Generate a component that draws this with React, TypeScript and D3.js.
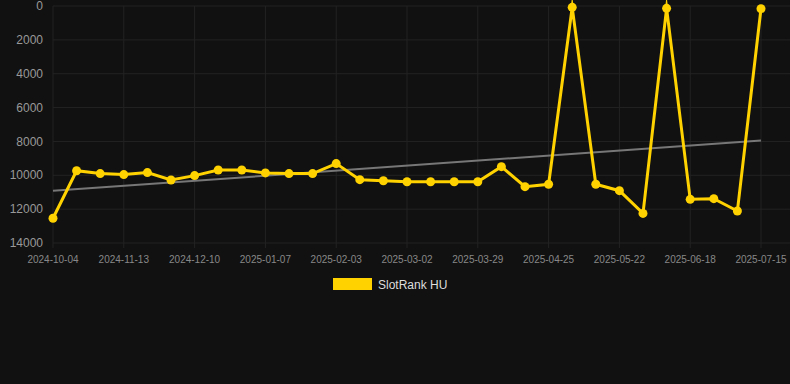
import React, { useEffect } from "react";
import * as d3 from "d3";

const categories: string[] = [
  "2024-10-04", "2024-10-17", "2024-10-30", "2024-11-13", "2024-11-22", "2024-12-01",
  "2024-12-10", "2024-12-19", "2024-12-28", "2025-01-07", "2025-01-16", "2025-01-25",
  "2025-02-03", "2025-02-12", "2025-02-21", "2025-03-02", "2025-03-11", "2025-03-20",
  "2025-03-29", "2025-04-07", "2025-04-16", "2025-04-25", "2025-05-04", "2025-05-13",
  "2025-05-22", "2025-05-31", "2025-06-09", "2025-06-18", "2025-06-27", "2025-07-06",
  "2025-07-15",
];

const rankValues: number[] = [
  12540, 9730, 9900, 9960, 9840, 10280, 10020, 9690, 9690, 9860, 9900, 9900,
  9310, 10260, 10320, 10380, 10380, 10380, 10380, 9490, 10670, 10530, 80, 10530,
  10910, 12250, 140, 11420, 11380, 12110, 160,
];

const yTicks: number[] = [0, 2000, 4000, 6000, 8000, 10000, 12000, 14000];
const seriesName = "SlotRank HU";

const W = 790;
const H = 384;
const left = 53;
const right = 761;
const top = 6;
const bottom = 243;

export default function App() {
  useEffect(() => {
    document.body.style.margin = "0";
    document.body.style.background = "#111111";
  }, []);

  const x = d3.scalePoint<string>().domain(categories).range([left, right]);
  const y = d3.scaleLinear().domain([0, 14000]).range([top, bottom]);

  // linear regression trend
  const n = rankValues.length;
  const xs = rankValues.map((_, i) => i);
  const mx = d3.mean(xs) as number;
  const my = d3.mean(rankValues) as number;
  let sxy = 0;
  let sxx = 0;
  xs.forEach((xi, i) => {
    sxy += (xi - mx) * (rankValues[i] - my);
    sxx += (xi - mx) * (xi - mx);
  });
  const slope = sxy / sxx;
  const intercept = my - slope * mx;
  const trendStart = intercept;
  const trendEnd = intercept + slope * (n - 1);

  const line = d3
    .line<number>()
    .x((_, i) => x(categories[i]) as number)
    .y((d) => y(d));

  const labelIdx = categories.map((_, i) => i).filter((i) => i % 3 === 0);

  return (
    <svg width={W} height={H} style={{ display: "block", background: "#111111" }}>
      <rect x={0} y={0} width={W} height={H} fill="#111111" />
      {yTicks.map((t) => (
        <line key={"h" + t} x1={left} x2={W} y1={y(t)} y2={y(t)} stroke="#232323" strokeWidth={1} />
      ))}
      {labelIdx.map((i) => (
        <line
          key={"v" + i}
          x1={x(categories[i])}
          x2={x(categories[i])}
          y1={top}
          y2={bottom + 5}
          stroke="#232323"
          strokeWidth={1}
        />
      ))}
      {yTicks.map((t) => (
        <text
          key={"yl" + t}
          x={43}
          y={y(t)}
          dy="0.35em"
          textAnchor="end"
          fontFamily="Liberation Sans, Arial, sans-serif"
          fontSize={12}
          fill="#999999"
        >
          {t}
        </text>
      ))}
      {labelIdx.map((i) => (
        <text
          key={"xl" + i}
          x={x(categories[i])}
          y={259}
          dy="0.35em"
          textAnchor="middle"
          fontFamily="Liberation Sans, Arial, sans-serif"
          fontSize={10}
          fill="#888888"
        >
          {categories[i]}
        </text>
      ))}
      <line
        x1={x(categories[0])}
        x2={x(categories[n - 1])}
        y1={y(trendStart)}
        y2={y(trendEnd)}
        stroke="#777777"
        strokeWidth={2}
      />
      <path
        d={line(rankValues) || ""}
        fill="none"
        stroke="#FFD200"
        strokeWidth={3}
        strokeLinejoin="miter"
        strokeMiterlimit={10}
      />
      {rankValues.map((v, i) => (
        <circle key={"c" + i} cx={x(categories[i])} cy={y(v)} r={4.5} fill="#FFD200" />
      ))}
      <rect x={333} y={278} width={39} height={12} fill="#FFD200" />
      <text
        x={378}
        y={284.5}
        dy="0.35em"
        fontFamily="Liberation Sans, Arial, sans-serif"
        fontSize={12}
        fill="#dddddd"
      >
        {seriesName}
      </text>
    </svg>
  );
}
